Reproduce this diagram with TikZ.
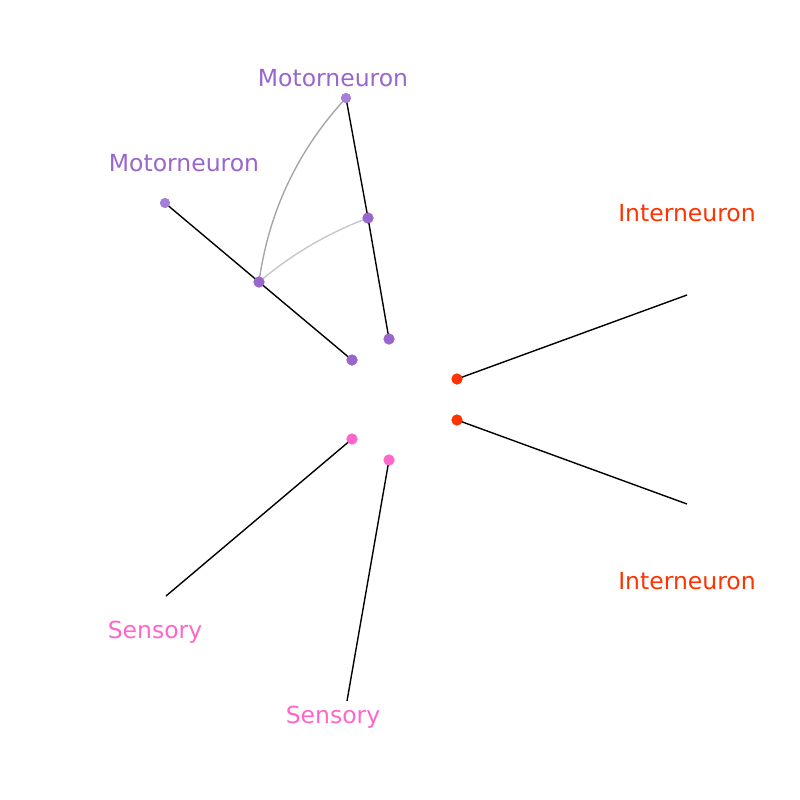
\documentclass[tikz,border=0pt]{standalone}
\usepackage{fontspec}
\setmainfont{DejaVu Sans}
\definecolor{mpurple}{HTML}{9966CC}
\definecolor{lpurple}{HTML}{A680D6}
\definecolor{ired}{HTML}{FF3300}
\definecolor{spink}{HTML}{FF66CC}
\begin{document}
\begin{tikzpicture}[x=1pt,y=-1pt,
  dot/.style={circle,inner sep=0pt,minimum size=11pt,fill=#1},
  enddot/.style={circle,inner sep=0pt,minimum size=10pt,fill=#1},
  lab/.style={font=\fontsize{23.5}{26}\selectfont,text=#1,inner sep=0pt},
  edge/.style={black,line width=1.4pt},
  arc1/.style={color=black!35,line width=1.4pt},
  arc2/.style={color=black!22,line width=1.4pt}]
\useasboundingbox (0,0) rectangle (800,800);
% motorneuron 1
\node[lab=mpurple] (m1l) at (333,78) {Motorneuron};
\node[enddot=lpurple] (m1a) at (346,98) {};
\node[dot=mpurple] (m1b) at (368,218) {};
\node[dot=mpurple] (m1c) at (389,339) {};
% motorneuron 2
\node[lab=mpurple] (m2l) at (184,163) {Motorneuron};
\node[enddot=lpurple] (m2a) at (165,203) {};
\node[dot=mpurple] (m2b) at (259,282) {};
\node[dot=mpurple] (m2c) at (352,360) {};
% interneurons
\node[lab=ired] (i1l) at (687,213) {Interneuron};
\node[dot=ired] (i1) at (457,379) {};
\coordinate (i1e) at (687,295);
\node[lab=ired] (i2l) at (687,581) {Interneuron};
\node[dot=ired] (i2) at (457,420) {};
\coordinate (i2e) at (687,504);
% sensory
\node[lab=spink] (s1l) at (155,632) {Sensory};
\node[dot=spink] (s1) at (352,439) {};
\coordinate (s1e) at (166,596);
\node[lab=spink] (s2l) at (333,717) {Sensory};
\node[dot=spink] (s2) at (389,460) {};
\coordinate (s2e) at (347,701);
% connectors
\draw[arc1] (m2b.center) .. controls (268.7,211.5) and (297.7,150.2) .. (m1a.center);
\draw[arc2] (m2b.center) .. controls (291.6,254.3) and (327.9,233) .. (m1b.center);
\draw[edge] (m1a.center) -- (m1b.center) -- (m1c.center);
\draw[edge] (m2a.center) -- (m2b.center) -- (m2c.center);
\draw[edge] (i1.center) -- (i1e);
\draw[edge] (i2.center) -- (i2e);
\draw[edge] (s1.center) -- (s1e);
\draw[edge] (s2.center) -- (s2e);
% redraw dots on top
\node[enddot=lpurple] at (m1a) {};
\node[dot=mpurple] at (m1b) {};
\node[dot=mpurple] at (m1c) {};
\node[enddot=lpurple] at (m2a) {};
\node[dot=mpurple] at (m2b) {};
\node[dot=mpurple] at (m2c) {};
\node[dot=ired] at (i1) {};
\node[dot=ired] at (i2) {};
\node[dot=spink] at (s1) {};
\node[dot=spink] at (s2) {};
\end{tikzpicture}
\end{document}
